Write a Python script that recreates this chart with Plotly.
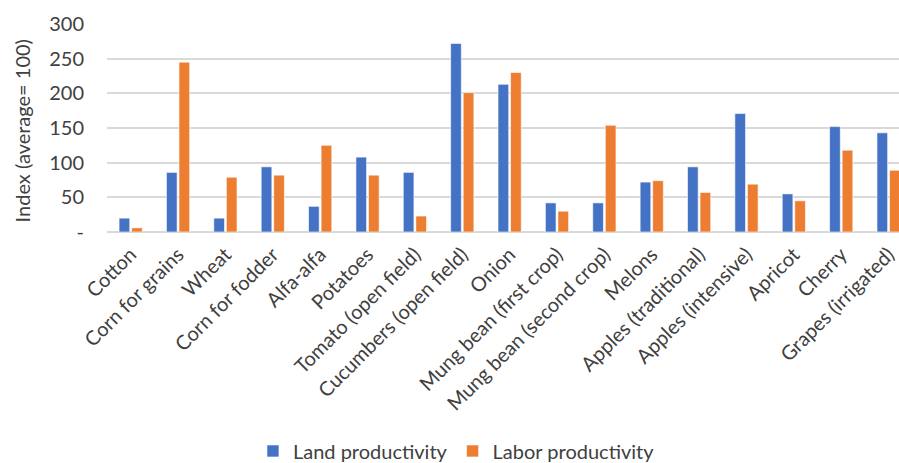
import plotly.graph_objects as go

# Crop productivity indices (average = 100)
crops = [
    "Cotton", "Corn for grains", "Wheat", "Corn for fodder", "Alfa-alfa",
    "Potatoes", "Tomato (open field)", "Cucumbers (open field)", "Onion",
    "Mung bean (first crop)", "Mung bean (second crop)", "Melons",
    "Apples (traditional)", "Apples (intensive)", "Apricot", "Cherry",
    "Grapes (irrigated)",
]
land_productivity = [20, 86, 20, 94, 37, 108, 86, 272, 213, 42, 42, 72, 94, 171, 55, 152, 143]
labor_productivity = [6, 245, 79, 82, 125, 82, 23, 201, 230, 30, 154, 74, 57, 69, 45, 118, 89]

y_tick_values = [0, 50, 100, 150, 200, 250, 300]
y_tick_labels = ["-", "50", "100", "150", "200", "250", "300"]

FONT = "Lato"
SIZE = 20
TEXT_COLOR = "#404040"
GRID_COLOR = "#d9d9d9"

fig = go.Figure()
fig.add_trace(go.Bar(
    x=list(range(len(crops))), y=land_productivity, name="Land productivity",
    marker=dict(color="#4472C4", line=dict(color="rgba(255,255,255,0.6)", width=1)),
))
fig.add_trace(go.Bar(
    x=list(range(len(crops))), y=labor_productivity, name="Labor productivity",
    marker=dict(color="#ED7D31", line=dict(color="rgba(255,255,255,0.6)", width=1)),
))

fig.update_layout(
    width=899, height=463,
    margin=dict(l=107, r=0, t=24, b=231),
    paper_bgcolor="white", plot_bgcolor="white",
    font=dict(family=FONT, size=SIZE, color=TEXT_COLOR),
    barmode="group", bargap=0.47, bargroupgap=0.15,
    showlegend=True,
    legend=dict(
        orientation="h", xref="paper", yref="container",
        x=0.1843, xanchor="left", y=0.026, yanchor="middle",
        font=dict(family=FONT, size=SIZE, color=TEXT_COLOR),
        itemwidth=30,
        bgcolor="rgba(0,0,0,0)", borderwidth=0,
    ),
    xaxis=dict(
        range=[-0.5, 16.22],
        tickmode="array", tickvals=list(range(len(crops))), ticktext=crops,
        tickangle=-45, showgrid=False, zeroline=False, showline=False,
        ticks="", ticklabelstandoff=6,
        tickfont=dict(family=FONT, size=SIZE, color=TEXT_COLOR),
        automargin=False,
    ),
    yaxis=dict(
        range=[0, 300], tickmode="array", tickvals=y_tick_values, ticktext=y_tick_labels,
        showgrid=True, gridcolor=GRID_COLOR, gridwidth=1.5,
        zeroline=True, zerolinecolor=GRID_COLOR, zerolinewidth=1.5,
        showline=False, ticks="", ticklabelstandoff=22,
        tickfont=dict(family=FONT, size=SIZE, color=TEXT_COLOR),
        automargin=False,
    ),
    annotations=[dict(
        text="Index (average= 100)", xref="paper", yref="paper",
        x=-0.107, y=0.485, xanchor="center", yanchor="middle",
        textangle=-90, showarrow=False,
        font=dict(family=FONT, size=SIZE, color=TEXT_COLOR),
    )],
)

fig.write_html("out.html")
